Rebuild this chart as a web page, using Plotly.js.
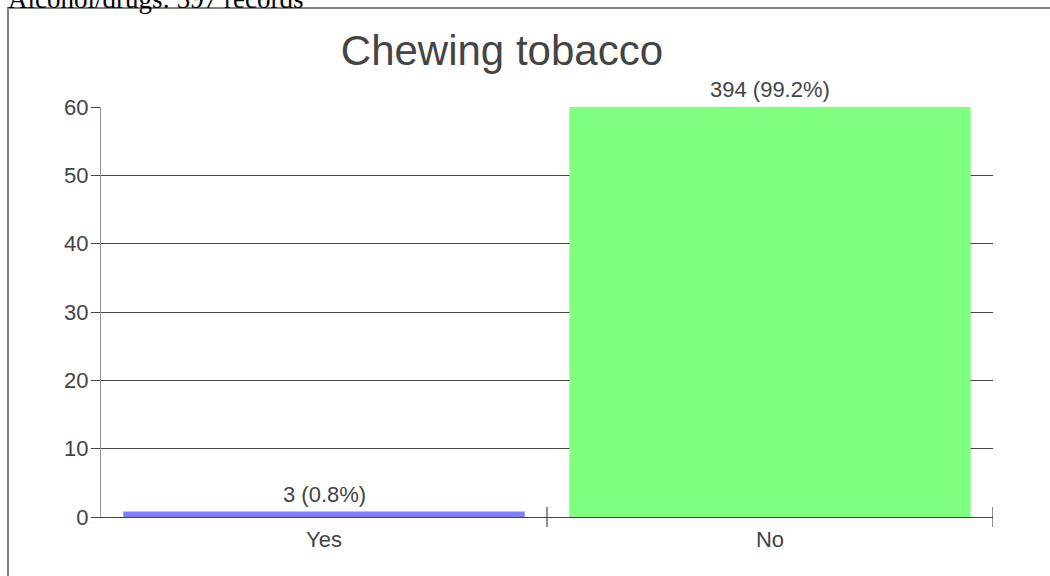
<!DOCTYPE html>
<html>
<head>
<meta charset="utf-8">
<script src="https://cdn.plot.ly/plotly-3.0.1.min.js"></script>
<style>
  html, body { margin: 0; padding: 0; background: #ffffff; }
  #chart { width: 1050px; height: 576px; }
</style>
</head>
<body>
<div id="chart"></div>
<script>
// Survey answers for "Chewing tobacco"
const categories = ['Yes', 'No'];
const counts = [3, 394];
const percents = [0.8, 99.2];
const barColors = ['#8080ff', '#80ff80'];
const yTicks = [0, 10, 20, 30, 40, 50, 60];
const headerText = 'Alcohol/drugs: 397 records';
const chartTitle = 'Chewing tobacco';

// Page geometry (pixels)
const W = 1050, H = 576;
const M = { l: 101, r: 57, t: 107, b: 59 };
const plotW = W - M.l - M.r;
const plotH = H - M.t - M.b;
const px = x => (x - M.l) / plotW;          // pixel x -> paper x
const py = y => (H - M.b - y) / plotH;      // pixel y -> paper y

const yMax = yTicks[yTicks.length - 1];
const labelFont = { family: 'Liberation Sans, Arial, sans-serif', size: 22, color: '#444444' };

const trace = {
  type: 'bar',
  x: categories,
  y: percents,
  width: 0.9,
  marker: { color: barColors, line: { width: 0 } },
  cliponaxis: true,
  hoverinfo: 'none'
};

// Value labels above each bar (capped at the top of the axis)
const valueLabels = categories.map((c, i) => ({
  x: c, y: Math.min(percents[i], yMax),
  xref: 'x', yref: 'y',
  text: counts[i] + ' (' + percents[i] + '%)',
  showarrow: false,
  xanchor: 'center', yanchor: 'bottom',
  yshift: 3,
  font: labelFont
}));

// Header line above the framed chart
const header = {
  xref: 'paper', yref: 'paper',
  x: px(6), y: py(16),
  xanchor: 'left', yanchor: 'bottom',
  text: headerText, showarrow: false,
  font: { family: 'Liberation Serif, Times New Roman, serif', size: 27, color: '#000000' }
};

// Category boundary ticks crossing the x axis
const boundaryTicks = categories.map((c, i) => ({
  type: 'line', xref: 'x', yref: 'paper',
  x0: i + 0.5, x1: i + 0.5,
  y0: -10 / plotH, y1: 10 / plotH,
  line: { color: '#444444', width: 1.2 }
}));

// Frame around the chart
const frame = {
  type: 'rect', xref: 'paper', yref: 'paper',
  x0: px(8), x1: px(1200), y0: py(700), y1: py(8),
  line: { color: '#808080', width: 2 },
  fillcolor: 'rgba(0,0,0,0)',
  layer: 'below'
};

const layout = {
  width: W, height: H,
  margin: M,
  paper_bgcolor: '#ffffff',
  plot_bgcolor: '#ffffff',
  showlegend: false,
  title: {
    text: chartTitle,
    font: { family: 'Liberation Sans, Arial, sans-serif', size: 42, color: '#444444' },
    xref: 'container', yref: 'container',
    x: 0.478, xanchor: 'center',
    y: 1 - 50 / H, yanchor: 'middle'
  },
  xaxis: {
    type: 'category',
    range: [-0.5, categories.length - 0.5],
    showline: true, linecolor: '#444444', linewidth: 1.2,
    showgrid: false, zeroline: false,
    ticks: '',
    ticklabelstandoff: 2,
    tickfont: labelFont,
    fixedrange: true
  },
  yaxis: {
    range: [0, yMax],
    tickvals: yTicks,
    showgrid: true, gridcolor: '#444444', gridwidth: 1,
    zeroline: false,
    ticks: 'outside', ticklen: 9, tickcolor: '#444444', tickwidth: 1,
    ticklabelstandoff: -2,
    showline: true, linecolor: '#999999', linewidth: 1.2,
    tickfont: labelFont,
    fixedrange: true
  },
  annotations: [header].concat(valueLabels),
  shapes: [frame].concat(boundaryTicks)
};

Plotly.newPlot('chart', [trace], layout, { displayModeBar: false, staticPlot: true });
</script>
</body>
</html>
